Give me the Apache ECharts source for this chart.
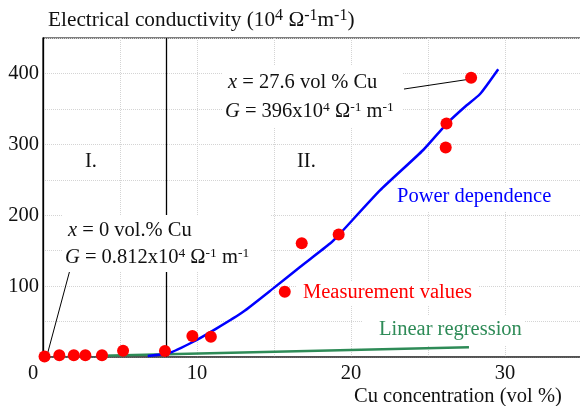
<!DOCTYPE html>
<html><head><meta charset="utf-8">
<script src="https://cdn.jsdelivr.net/npm/echarts@6/dist/echarts.min.js"></script>
<style>html,body{margin:0;padding:0;background:#fff}#c{width:580px;height:406px}</style>
</head><body><div id="c"></div>
<script>
// ---- data ----
const measX = [0.1, 1.06, 2.0, 2.75, 3.83, 5.2, 7.92, 9.7, 10.9, 15.7, 16.8, 19.2, 26.15, 26.2, 27.8];
const measY = [0.812, 2.5, 2.5, 2.5, 2.5, 8.9, 8.5, 29.6, 28.6, 92, 160.6, 172.8, 295.6, 329.4, 394];
const powerX = [6.8, 8.14, 9.76, 11.28, 13.0, 14.95, 16.69, 18.64, 19.24, 21.88, 24.69, 26.21, 27.4, 28.38, 29.56];
const powerY = [1.5, 5.2, 21.5, 40.4, 63.8, 96.8, 127, 160, 173, 235, 292, 329, 353, 371, 406];
const linX = [3.83, 27.66];
const linY = [1.8, 13.6];
const xTickLabels = [0, 10, 20, 30];
const yTickLabels = [100, 200, 300, 400];
const boundaryX = 8;
const leader1 = [[0.32, 7.0], [1.75, 122.7]];
const leader2 = [[23.44, 378], [27.73, 392]];

const FF = 'Liberation Serif, Times New Roman, serif';
const FS = 20.5;
const chart = echarts.init(document.getElementById('c'), null, {renderer: 'canvas'});

function richFor(color, fs, sfs) {
  return {
    sup: {fontSize: sfs, fontFamily: FF, verticalAlign: 'top', lineHeight: sfs, fill: color},
    i: {fontSize: fs, fontFamily: FF, fontStyle: 'italic', fill: color}
  };
}
function txt(x, y, text, color, fs, sfs) {
  fs = fs || FS; sfs = sfs || 13.5;
  return {
    type: 'text', z: 60,
    style: {
      x: x, y: y, text: text, fill: color, fontSize: fs, fontFamily: FF,
      verticalAlign: 'middle', align: 'left', lineHeight: 24, rich: richFor(color, fs, sfs)
    }
  };
}
function box(x, y, w, h) {
  return {type: 'rect', z: 50, shape: {x: x, y: y, width: w, height: h}, style: {fill: '#fff'}};
}

const option = {
  animation: false,
  backgroundColor: '#fff',
  grid: {left: 43, top: 38, width: 539, height: 319, outerBoundsMode: 'none', containLabel: false,
         show: true, borderColor: '#000', borderWidth: 1.2, backgroundColor: 'transparent'},
  xAxis: {
    type: 'value', min: 0, max: 35, interval: 5,
    axisLine: {show: true, lineStyle: {color: '#444', width: 1.5}},
    axisTick: {show: false},
    splitLine: {show: true, lineStyle: {type: 'dotted', color: '#d4d4d4', width: 1}},
    axisLabel: {
      margin: 6, color: '#111', fontSize: FS, fontFamily: FF,
      formatter: v => xTickLabels.indexOf(v) < 0 ? '' : (v === 0 ? '{z|0}' : String(v)),
      rich: {z: {fontSize: FS, fontFamily: FF, color: '#111', padding: [0, 20, 0, 0]}}
    }
  },
  yAxis: {
    type: 'value', min: 0, max: 450, interval: 50,
    axisLine: {show: true, lineStyle: {color: '#000', width: 1.3}},
    axisTick: {show: false},
    splitLine: {show: true, lineStyle: {type: 'dotted', color: '#d4d4d4', width: 1}},
    axisLabel: {
      margin: 4, color: '#111', fontSize: FS, fontFamily: FF,
      formatter: v => yTickLabels.indexOf(v) < 0 ? '' : String(v)
    }
  },
  series: [
    {
      type: 'line', name: 'Linear regression', data: linX.map((x, i) => [x, linY[i]]),
      symbol: 'none', lineStyle: {color: '#2e8b57', width: 2.5}, z: 3,
      markLine: {
        silent: true, symbol: ['none', 'none'], label: {show: false},
        lineStyle: {color: '#000', width: 1.3, type: 'solid'},
        data: [{xAxis: boundaryX}]
      }
    },
    {
      type: 'line', name: 'Power dependence', data: powerX.map((x, i) => [x, powerY[i]]),
      symbol: 'none', smooth: 0.18, lineStyle: {color: '#0000ff', width: 2.5}, z: 4
    },
    {
      type: 'scatter', name: 'Measurement values', data: measX.map((x, i) => [x, measY[i]]),
      symbol: 'circle', symbolSize: 12, itemStyle: {color: '#ff0000', opacity: 1}, z: 5,
      markLine: {
        silent: true, symbol: ['none', 'none'], label: {show: false},
        lineStyle: {color: '#000', width: 1, type: 'solid'},
        data: [
          [{coord: leader1[0]}, {coord: leader1[1]}],
          [{coord: leader2[0]}, {coord: leader2[1]}]
        ]
      }
    }
  ],
  graphic: [
    box(63, 215, 207, 57),
    box(222, 66, 180, 62),
    box(393, 183, 190, 29),
    box(296, 281, 182, 25),
    box(362, 315, 162, 30),
    txt(48, 20, 'Electrical conductivity (10{sup|4} Ω{sup|-1}m{sup|-1})', '#111', 21.3, 16),
    txt(354, 397, 'Cu concentration (vol %)', '#111'),
    txt(85, 162, 'I.', '#111'),
    txt(297, 162, 'II.', '#111'),
    txt(68, 231, '{i|x} = 0 vol.% Cu', '#111'),
    txt(65, 258, '{i|G} = 0.812x10{sup|4} Ω{sup|-1} m{sup|-1}', '#111'),
    txt(228, 83, '{i|x} = 27.6 vol % Cu', '#111'),
    txt(225, 112, '{i|G} = 396x10{sup|4} Ω{sup|-1} m{sup|-1}', '#111'),
    txt(397, 197, 'Power dependence', '#0000ff'),
    txt(303, 293, 'Measurement values', '#ff0000'),
    txt(379, 330, 'Linear regression', '#2e8b57')
  ]
};
chart.setOption(option);
</script></body></html>
